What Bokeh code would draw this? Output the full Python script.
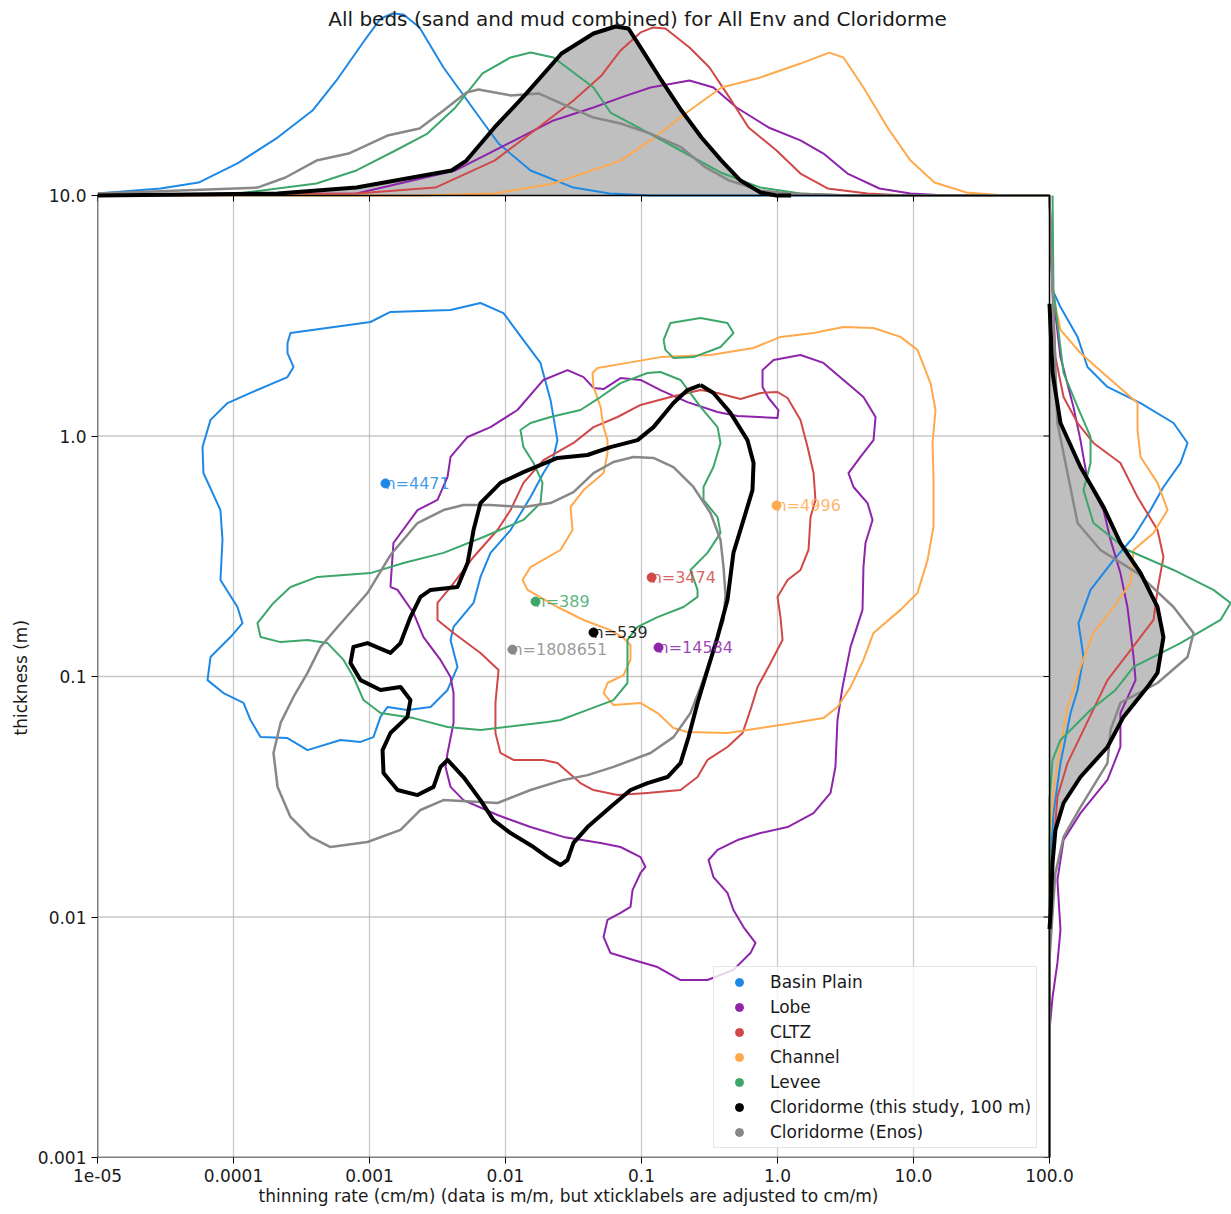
import numpy as np
from bokeh.plotting import figure
from bokeh.models import (Range1d, FixedTicker, LinearScale, Label, Legend, LegendItem, Title,
                          ColumnDataSource, CustomJSTickFormatter)
from bokeh.core.properties import value
from bokeh.embed import file_html
from bokeh.resources import INLINE

FONT = "DejaVu Sans"
TXT = "#1a1a1a"

# ---------------- data ----------------
groups = ["Basin Plain", "Lobe", "CLTZ", "Channel", "Levee",
          "Cloridorme (this study, 100 m)", "Cloridorme (Enos)"]
colors = ["#1e88e5", "#8e24aa", "#d04848", "#ffa94d", "#3da66b", "#000000", "#888888"]
counts = [4471, 14584, 3474, 4996, 389, 539, 1808651]
median_rate = [0.00131, 0.1334, 0.1187, 0.984, 0.01663, 0.0444, 0.01124]   # cm/m
median_thick = [0.635, 0.132, 0.258, 0.514, 0.205, 0.1524, 0.1294]          # m

x_ticks = [1e-5, 1e-4, 1e-3, 1e-2, 1e-1, 1.0, 10.0, 100.0]
x_tick_labels = ["1e-05", "0.0001", "0.001", "0.01", "0.1", "1.0", "10.0", "100.0"]
y_ticks = [1e-3, 1e-2, 1e-1, 1.0, 10.0]
y_tick_labels = ["0.001", "0.01", "0.1", "1.0", "10.0"]

# contours: (log10 thinning rate [cm/m], log10 thickness [m])
basin_plain_contour = [
    (-3.603, 0.387), (-3.581, 0.428), (-2.993, 0.474), (-2.846, 0.516), (-2.404, 0.524), (-2.184, 0.553),
    (-2.015, 0.511), (-1.868, 0.399), (-1.743, 0.304), (-1.669, 0.150), (-1.618, -0.017), (-1.647, -0.087),
    (-1.721, -0.154), (-1.816, -0.254), (-1.963, -0.391), (-2.110, -0.486), (-2.184, -0.586), (-2.235, -0.694),
    (-2.382, -0.794), (-2.404, -0.848), (-2.353, -0.960), (-2.426, -1.056), (-2.551, -1.127), (-2.721, -1.139),
    (-2.868, -1.127), (-2.919, -1.168), (-2.971, -1.252), (-3.066, -1.272), (-3.213, -1.264), (-3.456, -1.306),
    (-3.603, -1.256), (-3.801, -1.252), (-3.875, -1.181), (-3.926, -1.110), (-4.074, -1.069), (-4.191, -1.015),
    (-4.169, -0.919), (-4.022, -0.836), (-3.934, -0.778), (-3.971, -0.711), (-4.096, -0.599), (-4.081, -0.432),
    (-4.096, -0.308), (-4.221, -0.154), (-4.228, -0.046), (-4.169, 0.067), (-4.044, 0.137), (-3.875, 0.179),
    (-3.603, 0.245), (-3.559, 0.287), (-3.603, 0.345)]

lobe_contour = [
    (-2.846, -0.628), (-2.824, -0.445), (-2.647, -0.308), (-2.500, -0.266), (-2.426, -0.170), (-2.404, -0.087),
    (-2.279, -0.004), (-2.110, 0.037), (-1.912, 0.108), (-1.721, 0.233), (-1.544, 0.274), (-1.426, 0.245),
    (-1.353, 0.200), (-1.279, 0.195), (-1.154, 0.241), (-1.007, 0.233), (-0.860, 0.191), (-0.662, 0.141),
    (-0.441, 0.100), (-0.294, 0.083), (0.000, 0.075), (0.007, 0.108), (-0.066, 0.158), (-0.110, 0.204),
    (-0.110, 0.274), (-0.029, 0.316), (0.169, 0.337), (0.338, 0.304), (0.485, 0.233), (0.632, 0.162),
    (0.721, 0.079), (0.706, -0.017), (0.610, -0.087), (0.522, -0.154), (0.559, -0.212), (0.662, -0.279),
    (0.699, -0.349), (0.647, -0.445), (0.632, -0.545), (0.625, -0.723), (0.537, -0.877), (0.478, -1.044),
    (0.441, -1.181), (0.426, -1.376), (0.390, -1.484), (0.265, -1.568), (0.074, -1.626), (-0.125, -1.651),
    (-0.294, -1.680), (-0.441, -1.721), (-0.507, -1.763), (-0.471, -1.834), (-0.368, -1.900), (-0.324, -1.971),
    (-0.250, -2.042), (-0.162, -2.108), (-0.199, -2.150), (-0.324, -2.220), (-0.515, -2.262), (-0.713, -2.262),
    (-0.882, -2.208), (-1.059, -2.179), (-1.228, -2.150), (-1.279, -2.083), (-1.250, -2.012), (-1.154, -1.983),
    (-1.081, -1.958), (-1.066, -1.888), (-1.007, -1.817), (-0.971, -1.792), (-1.007, -1.751), (-1.154, -1.709),
    (-1.301, -1.692), (-1.574, -1.667), (-1.816, -1.626), (-2.059, -1.576), (-2.309, -1.514), (-2.404, -1.459),
    (-2.441, -1.376), (-2.426, -1.318), (-2.382, -1.193), (-2.382, -1.069), (-2.404, -1.002), (-2.478, -0.931),
    (-2.603, -0.836), (-2.676, -0.736), (-2.794, -0.640)]

cltz_contour = [
    (-2.404, -0.628), (-2.235, -0.503), (-2.059, -0.391), (-1.963, -0.308), (-1.868, -0.195), (-1.721, -0.100),
    (-1.500, -0.029), (-1.353, 0.037), (-1.176, 0.079), (-1.007, 0.129), (-0.787, 0.162), (-0.566, 0.191),
    (-0.441, 0.179), (-0.272, 0.154), (-0.125, 0.179), (0.000, 0.183), (0.074, 0.158), (0.169, 0.067),
    (0.221, -0.046), (0.265, -0.154), (0.279, -0.266), (0.243, -0.337), (0.228, -0.474), (0.169, -0.557),
    (0.074, -0.599), (0.000, -0.669), (0.022, -0.753), (0.037, -0.848), (-0.051, -0.944), (-0.147, -1.044),
    (-0.199, -1.139), (-0.257, -1.235), (-0.368, -1.293), (-0.515, -1.347), (-0.588, -1.418), (-0.713, -1.472),
    (-0.956, -1.484), (-1.176, -1.493), (-1.353, -1.472), (-1.449, -1.443), (-1.618, -1.360), (-1.721, -1.347),
    (-1.941, -1.347), (-2.037, -1.318), (-2.074, -1.235), (-2.074, -1.110), (-2.051, -0.973), (-2.184, -0.902),
    (-2.382, -0.819), (-2.500, -0.765), (-2.500, -0.694)]

channel_contour = [
    (-1.250, -0.017), (-1.279, 0.037), (-1.301, 0.121), (-1.353, 0.204), (-1.360, 0.262), (-1.324, 0.283),
    (-1.103, 0.304), (-0.860, 0.328), (-0.493, 0.337), (-0.176, 0.366), (0.022, 0.412), (0.265, 0.428),
    (0.485, 0.453), (0.706, 0.449), (0.904, 0.412), (1.029, 0.358), (1.125, 0.220), (1.162, 0.108),
    (1.140, -0.029), (1.147, -0.170), (1.147, -0.378), (1.103, -0.516), (1.029, -0.653), (0.904, -0.723),
    (0.706, -0.819), (0.632, -0.931), (0.537, -1.044), (0.441, -1.127), (0.338, -1.173), (0.118, -1.193),
    (-0.125, -1.214), (-0.368, -1.235), (-0.662, -1.231), (-0.765, -1.214), (-0.882, -1.152), (-1.007, -1.110),
    (-1.206, -1.119), (-1.279, -1.069), (-1.250, -1.027), (-1.132, -0.994), (-1.081, -0.931), (-1.081, -0.869),
    (-1.132, -0.840), (-1.228, -0.807), (-1.426, -0.765), (-1.618, -0.711), (-1.838, -0.640), (-1.875, -0.599),
    (-1.816, -0.545), (-1.596, -0.474), (-1.507, -0.391), (-1.522, -0.295), (-1.426, -0.225), (-1.279, -0.154),
    (-1.250, -0.071)]

levee_contour = [
    (-3.581, -0.628), (-3.382, -0.586), (-2.993, -0.570), (-2.750, -0.528), (-2.456, -0.486), (-2.162, -0.420),
    (-1.868, -0.349), (-1.743, -0.279), (-1.728, -0.195), (-1.794, -0.112), (-1.868, -0.046), (-1.890, 0.025),
    (-1.816, 0.054), (-1.669, 0.079), (-1.449, 0.108), (-1.301, 0.162), (-1.154, 0.220), (-0.956, 0.262),
    (-0.860, 0.266), (-0.713, 0.233), (-0.566, 0.121), (-0.441, 0.037), (-0.419, -0.029), (-0.471, -0.129),
    (-0.544, -0.212), (-0.544, -0.266), (-0.441, -0.337), (-0.419, -0.403), (-0.515, -0.486), (-0.640, -0.557),
    (-0.588, -0.640), (-0.588, -0.669), (-0.691, -0.711), (-0.882, -0.753), (-1.029, -0.794), (-1.103, -0.848),
    (-1.103, -0.931), (-1.103, -1.027), (-1.206, -1.098), (-1.397, -1.139), (-1.596, -1.181), (-1.691, -1.189),
    (-2.184, -1.222), (-2.426, -1.210), (-2.676, -1.173), (-2.919, -1.152), (-3.044, -1.098), (-3.118, -1.002),
    (-3.191, -0.931), (-3.309, -0.861), (-3.456, -0.848), (-3.654, -0.857), (-3.801, -0.836), (-3.824, -0.778),
    (-3.706, -0.694)]

levee_contour_island = [
    (-0.838, 0.399), (-0.787, 0.470), (-0.566, 0.491), (-0.368, 0.470), (-0.324, 0.428), (-0.419, 0.370),
    (-0.618, 0.328), (-0.765, 0.324), (-0.824, 0.358)]

cloridorme_contour = [
    (-0.566, 0.212), (-0.471, 0.179), (-0.346, 0.096), (-0.221, -0.017), (-0.176, -0.112), (-0.184, -0.225),
    (-0.250, -0.349), (-0.324, -0.486), (-0.368, -0.682), (-0.441, -0.836), (-0.515, -0.973), (-0.588, -1.110),
    (-0.654, -1.252), (-0.713, -1.360), (-0.809, -1.418), (-0.956, -1.443), (-1.081, -1.472), (-1.228, -1.543),
    (-1.397, -1.626), (-1.500, -1.692), (-1.544, -1.763), (-1.596, -1.784), (-1.691, -1.751), (-1.794, -1.709),
    (-1.963, -1.651), (-2.088, -1.597), (-2.184, -1.514), (-2.309, -1.418), (-2.426, -1.347), (-2.478, -1.376),
    (-2.529, -1.459), (-2.647, -1.493), (-2.794, -1.472), (-2.897, -1.401), (-2.904, -1.306), (-2.846, -1.235),
    (-2.721, -1.168), (-2.699, -1.098), (-2.772, -1.044), (-2.919, -1.056), (-3.066, -1.015), (-3.140, -0.944),
    (-3.118, -0.877), (-3.015, -0.861), (-2.846, -0.902), (-2.772, -0.861), (-2.699, -0.753), (-2.625, -0.669),
    (-2.551, -0.640), (-2.353, -0.628), (-2.279, -0.528), (-2.235, -0.391), (-2.184, -0.279), (-2.037, -0.195),
    (-1.868, -0.150), (-1.618, -0.091), (-1.397, -0.079), (-1.228, -0.046), (-1.029, -0.017), (-0.912, 0.037),
    (-0.765, 0.137), (-0.662, 0.191)]

enos_contour = [
    (-2.846, -0.495), (-2.647, -0.362), (-2.456, -0.308), (-2.309, -0.287), (-2.110, -0.287), (-1.868, -0.295),
    (-1.669, -0.279), (-1.500, -0.233), (-1.353, -0.154), (-1.206, -0.108), (-1.059, -0.087), (-0.912, -0.091),
    (-0.765, -0.129), (-0.618, -0.212), (-0.493, -0.320), (-0.419, -0.432), (-0.397, -0.545), (-0.382, -0.661),
    (-0.397, -0.765), (-0.471, -0.890), (-0.566, -1.044), (-0.640, -1.152), (-0.765, -1.252), (-0.934, -1.318),
    (-1.206, -1.376), (-1.397, -1.410), (-1.574, -1.430), (-1.816, -1.472), (-2.059, -1.526), (-2.456, -1.514),
    (-2.625, -1.555), (-2.772, -1.638), (-3.015, -1.688), (-3.287, -1.709), (-3.434, -1.667), (-3.581, -1.584),
    (-3.676, -1.459), (-3.706, -1.318), (-3.654, -1.193), (-3.559, -1.085), (-3.456, -0.985), (-3.360, -0.877),
    (-3.235, -0.794), (-3.015, -0.653)]

# marginal density of thinning rate: (log10 rate [cm/m], density)
basin_plain_rate_kde = [
    (-5.0, 0.011), (-4.537, 0.039), (-4.257, 0.072), (-3.971, 0.178), (-3.676, 0.322), (-3.419, 0.472),
    (-3.243, 0.639), (-3.037, 0.861), (-2.919, 0.983), (-2.831, 1.011), (-2.750, 1.006), (-2.632, 0.933),
    (-2.456, 0.711), (-2.228, 0.472), (-2.051, 0.289), (-1.816, 0.139), (-1.500, 0.044), (-1.235, 0.011),
    (-0.934, 0.0), (2.0, 0.0)]
lobe_rate_kde = [
    (-5.0, 0.0), (-3.096, 0.011), (-2.368, 0.139), (-1.934, 0.306), (-1.647, 0.417), (-1.353, 0.489),
    (-1.154, 0.544), (-0.934, 0.600), (-0.647, 0.639), (-0.471, 0.600), (-0.301, 0.489), (-0.066, 0.378),
    (0.169, 0.306), (0.338, 0.233), (0.515, 0.122), (0.750, 0.039), (0.978, 0.011), (1.243, 0.0), (2.0, 0.0)]
cltz_rate_kde = [
    (-5.0, 0.0), (-3.096, 0.011), (-2.515, 0.044), (-2.081, 0.194), (-1.787, 0.361), (-1.500, 0.528),
    (-1.294, 0.667), (-1.154, 0.806), (-1.007, 0.906), (-0.919, 0.933), (-0.824, 0.928), (-0.647, 0.822),
    (-0.500, 0.711), (-0.353, 0.544), (-0.213, 0.378), (-0.007, 0.250), (0.169, 0.122), (0.368, 0.039),
    (0.662, 0.011), (0.949, 0.0), (2.0, 0.0)]
channel_rate_kde = [
    (-5.0, 0.0), (-2.662, 0.0), (-2.081, 0.011), (-1.647, 0.067), (-1.154, 0.194), (-0.934, 0.306),
    (-0.647, 0.472), (-0.412, 0.600), (-0.125, 0.656), (0.169, 0.733), (0.287, 0.767), (0.382, 0.794),
    (0.485, 0.767), (0.632, 0.600), (0.809, 0.378), (0.978, 0.194), (1.154, 0.072), (1.390, 0.017),
    (1.676, 0.0), (2.0, 0.0)]
levee_rate_kde = [
    (-5.0, 0.0), (-3.971, 0.011), (-3.390, 0.067), (-3.096, 0.139), (-2.809, 0.250), (-2.574, 0.344),
    (-2.368, 0.489), (-2.169, 0.678), (-1.963, 0.767), (-1.816, 0.794), (-1.647, 0.767), (-1.353, 0.600),
    (-1.228, 0.461), (-1.007, 0.372), (-0.713, 0.250), (-0.419, 0.128), (-0.125, 0.044), (0.169, 0.011),
    (0.537, 0.0), (2.0, 0.0)]
cloridorme_rate_kde = [
    (-5.0, 0.0), (-3.676, 0.011), (-3.096, 0.044), (-2.809, 0.083), (-2.397, 0.139), (-2.287, 0.194),
    (-2.081, 0.378), (-1.846, 0.567), (-1.588, 0.789), (-1.353, 0.900), (-1.191, 0.939), (-1.096, 0.928),
    (-0.993, 0.806), (-0.853, 0.639), (-0.706, 0.472), (-0.559, 0.322), (-0.412, 0.194), (-0.272, 0.083),
    (-0.125, 0.017), (-0.007, 0.0), (0.1, 0.0)]
enos_rate_kde = [
    (-5.0, 0.011), (-3.824, 0.044), (-3.618, 0.100), (-3.390, 0.194), (-3.154, 0.233), (-2.868, 0.333),
    (-2.632, 0.372), (-2.456, 0.472), (-2.287, 0.572), (-2.199, 0.589), (-1.963, 0.556), (-1.757, 0.567),
    (-1.588, 0.511), (-1.353, 0.433), (-1.154, 0.400), (-0.934, 0.344), (-0.706, 0.267), (-0.529, 0.156),
    (-0.353, 0.083), (-0.125, 0.028), (0.081, 0.011), (0.537, 0.0), (2.0, 0.0)]

# marginal density of thickness: (log10 thickness [m], density)
basin_plain_thick_kde = [
    (1.0, 0.0), (0.607, 0.017), (0.536, 0.061), (0.412, 0.156), (0.287, 0.211), (0.204, 0.322),
    (0.137, 0.506), (0.054, 0.689), (-0.029, 0.767), (-0.112, 0.728), (-0.212, 0.633), (-0.308, 0.561),
    (-0.420, 0.467), (-0.516, 0.356), (-0.640, 0.228), (-0.778, 0.161), (-0.919, 0.189), (-1.056, 0.156),
    (-1.152, 0.117), (-1.360, 0.061), (-1.568, 0.022), (-1.709, 0.011), (-1.929, 0.0), (-3.0, 0.0)]
lobe_thick_kde = [
    (1.0, 0.0), (0.607, 0.017), (0.328, 0.061), (0.121, 0.133), (-0.017, 0.172), (-0.183, 0.211),
    (-0.308, 0.300), (-0.432, 0.339), (-0.570, 0.394), (-0.711, 0.433), (-0.919, 0.467), (-1.015, 0.478),
    (-1.152, 0.394), (-1.293, 0.394), (-1.430, 0.322), (-1.568, 0.172), (-1.680, 0.078), (-1.846, 0.044),
    (-2.054, 0.061), (-2.191, 0.044), (-2.333, 0.017), (-2.470, 0.0), (-3.0, 0.0)]
cltz_thick_kde = [
    (1.0, 0.0), (0.607, 0.017), (0.328, 0.033), (0.162, 0.078), (0.054, 0.156), (-0.029, 0.244),
    (-0.112, 0.394), (-0.254, 0.489), (-0.391, 0.600), (-0.503, 0.633), (-0.640, 0.600), (-0.765, 0.578),
    (-0.890, 0.450), (-1.015, 0.322), (-1.222, 0.189), (-1.360, 0.100), (-1.501, 0.044), (-1.709, 0.022),
    (-1.917, 0.006), (-2.137, 0.0), (-3.0, 0.0)]
channel_thick_kde = [
    (1.0, 0.0), (0.578, 0.022), (0.441, 0.061), (0.345, 0.172), (0.245, 0.322), (0.137, 0.489),
    (0.025, 0.489), (-0.087, 0.506), (-0.195, 0.600), (-0.308, 0.656), (-0.403, 0.578), (-0.474, 0.467),
    (-0.611, 0.450), (-0.711, 0.356), (-0.819, 0.244), (-0.960, 0.172), (-1.056, 0.133), (-1.127, 0.100),
    (-1.293, 0.061), (-1.472, 0.022), (-1.680, 0.0), (-3.0, 0.0)]
levee_thick_kde = [
    (1.0, 0.017), (0.607, 0.022), (0.262, 0.078), (0.121, 0.156), (-0.004, 0.228), (-0.112, 0.228),
    (-0.225, 0.189), (-0.362, 0.244), (-0.474, 0.433), (-0.557, 0.689), (-0.640, 0.911), (-0.694, 1.006),
    (-0.765, 0.950), (-0.861, 0.728), (-0.960, 0.467), (-1.056, 0.367), (-1.139, 0.228), (-1.264, 0.061),
    (-1.347, 0.017), (-1.514, 0.0), (-3.0, 0.0)]
cloridorme_thick_kde = [
    (0.550, 0.0), (0.262, 0.017), (0.054, 0.061), (-0.129, 0.172), (-0.295, 0.300),
    (-0.445, 0.394), (-0.570, 0.506), (-0.711, 0.600), (-0.836, 0.633), (-0.985, 0.600), (-1.044, 0.544),
    (-1.168, 0.411), (-1.293, 0.322), (-1.418, 0.172), (-1.526, 0.078), (-1.638, 0.033), (-1.775, 0.017),
    (-1.983, 0.006), (-2.050, 0.0)]
enos_thick_kde = [
    (1.0, 0.0), (0.607, 0.017), (0.054, 0.044), (-0.154, 0.100), (-0.362, 0.156), (-0.474, 0.283),
    (-0.570, 0.489), (-0.711, 0.689), (-0.819, 0.800), (-0.919, 0.767), (-1.027, 0.600), (-1.110, 0.394),
    (-1.222, 0.339), (-1.360, 0.322), (-1.543, 0.172), (-1.667, 0.078), (-1.817, 0.033), (-1.983, 0.017),
    (-2.179, 0.0), (-3.0, 0.0)]

contours = [basin_plain_contour, lobe_contour, cltz_contour, channel_contour, levee_contour,
            cloridorme_contour, enos_contour]
rate_kdes = [basin_plain_rate_kde, lobe_rate_kde, cltz_rate_kde, channel_rate_kde, levee_rate_kde,
             cloridorme_rate_kde, enos_rate_kde]
thick_kdes = [basin_plain_thick_kde, lobe_thick_kde, cltz_thick_kde, channel_thick_kde, levee_thick_kde,
              cloridorme_thick_kde, enos_thick_kde]
line_widths = [2, 2, 2, 2, 2, 4, 2.5]

# ---------------- geometry (pixels) ----------------
PX_DEC_X = 136.0      # pixels per decade of thinning rate
PX_DEC_Y = 240.5      # pixels per decade of thickness
PX_DENS = 180.0       # pixels per unit of marginal density
LEFT, FRAME_W = 97, 1134
FRAME_H, BOTTOM = 1157, 56
TOP_MARGIN_H = 195    # height of the upper marginal strip
MAIN_W = 952          # width of the joint panel
TICK = 6


def loglog(lst, close=False):
    a = np.array(lst, dtype=float)
    if close:
        a = np.vstack([a, a[:1]])
    return 10 ** a[:, 0], 10 ** a[:, 1]


def fmt(tks, lbls):
    return CustomJSTickFormatter(args=dict(tick_values=tks, tick_texts=lbls), code="""
        const i = tick_values.findIndex(t => Math.abs(Math.log10(t) - Math.log10(tick)) < 1e-6);
        return i >= 0 ? tick_texts[i] : "";
    """)


xlo, xhi = x_ticks[0], x_ticks[-1]
ylo, yhi = y_ticks[0], y_ticks[-1]
x_rng = Range1d(xlo, xlo * 10 ** (FRAME_W / PX_DEC_X))
y_rng = Range1d(ylo, ylo * 10 ** (FRAME_H / PX_DEC_Y))

p = figure(frame_width=FRAME_W, frame_height=FRAME_H, x_axis_type="log", y_axis_type="log",
           x_range=x_rng, y_range=y_rng, output_backend="svg", toolbar_location=None,
           min_border_left=LEFT, min_border_right=0, min_border_top=0, min_border_bottom=BOTTOM)
p.extra_y_ranges = {"top": Range1d(-(FRAME_H - TOP_MARGIN_H) / PX_DENS, TOP_MARGIN_H / PX_DENS)}
p.extra_y_scales = {"top": LinearScale()}
p.extra_x_ranges = {"right": Range1d(-MAIN_W / PX_DENS, (FRAME_W - MAIN_W) / PX_DENS)}
p.extra_x_scales = {"right": LinearScale()}
p.outline_line_color = None
p.xgrid.visible = False
p.ygrid.visible = False

for ax, tk, lb in ((p.xaxis[0], x_ticks, x_tick_labels), (p.yaxis[0], y_ticks, y_tick_labels)):
    ax.ticker = FixedTicker(ticks=tk, minor_ticks=[])
    ax.formatter = fmt(tk, lb)
    ax.major_tick_out = TICK
    ax.major_tick_in = 0
    ax.minor_tick_line_color = None
    ax.major_tick_line_color = "black"
    ax.axis_line_color = None
    ax.major_label_text_font = FONT
    ax.major_label_text_font_size = "17px"
    ax.major_label_text_color = TXT
p.xaxis.major_label_standoff = 5
p.yaxis.major_label_standoff = 5

# axis titles (placed relative to the joint panel)
p.add_layout(Title(text="thinning rate (cm/m) (data is m/m, but xticklabels are adjusted to cm/m)",
                   align="left", offset=161, vertical_align="middle", standoff=0,
                   text_font=FONT, text_font_size="17px", text_font_style="normal",
                   text_color=TXT), "below")
p.add_layout(Title(text="thickness (m)", align="left", offset=422, vertical_align="bottom", standoff=8,
                   text_font=FONT, text_font_size="17px", text_font_style="normal",
                   text_color=TXT), "left")

# grid lines of the joint panel
gx = x_ticks[1:-1]
gy = y_ticks[1:-1]
p.segment(x0=gx, y0=[ylo] * len(gx), x1=gx, y1=[yhi] * len(gx),
          line_color="#b0b0b0", line_alpha=0.7, line_width=1.3)
p.segment(x0=[xlo] * len(gy), y0=gy, x1=[xhi] * len(gy), y1=gy,
          line_color="#b0b0b0", line_alpha=0.7, line_width=1.3)

# upper marginal (density of thinning rate)
a = np.array(cloridorme_rate_kde)
p.varea(x=10 ** a[:, 0], y1=np.zeros(len(a)), y2=a[:, 1], fill_color="#bfbfbf", y_range_name="top")
for i in [0, 1, 2, 3, 4, 6, 5]:
    a = np.array(rate_kdes[i])
    p.line(10 ** a[:, 0], a[:, 1], line_color=colors[i], line_width=line_widths[i],
           line_join="round", y_range_name="top")

# right marginal (density of thickness)
a = np.array(cloridorme_thick_kde)
p.harea(y=10 ** a[:, 0], x1=np.zeros(len(a)), x2=a[:, 1], fill_color="#bfbfbf", x_range_name="right")
for i in [0, 1, 2, 3, 4, 6, 5]:
    a = np.array(thick_kdes[i])
    p.line(a[:, 1], 10 ** a[:, 0], line_color=colors[i], line_width=line_widths[i],
           line_join="round", x_range_name="right")

# contours
for i in [0, 1, 2, 3, 4, 6, 5]:
    xs, ys = loglog(contours[i], close=True)
    p.line(xs, ys, line_color=colors[i], line_width=line_widths[i], line_join="round")
    if i == 4:
        xs2, ys2 = loglog(levee_contour_island, close=True)
        p.line(xs2, ys2, line_color=colors[i], line_width=line_widths[i], line_join="round")

# spines of the joint panel + inward ticks on top / right spines
p.segment(x0=[xlo, xlo, xlo, xhi], y0=[ylo, ylo, yhi, ylo], x1=[xhi, xlo, xhi, xhi],
          y1=[ylo, yhi, yhi, yhi], line_color="black", line_width=1.5)
p.segment(x0=x_ticks, y0=[yhi] * len(x_ticks), x1=x_ticks,
          y1=[yhi * 10 ** (-TICK / PX_DEC_Y)] * len(x_ticks), line_color="black", line_width=1)
p.segment(x0=[xhi] * len(y_ticks), y0=y_ticks, x1=[xhi * 10 ** (-TICK / PX_DEC_X)] * len(y_ticks),
          y1=y_ticks, line_color="black", line_width=1)

# medians and counts
legend_items = []
for i, g in enumerate(groups):
    r = p.scatter([median_rate[i]], [median_thick[i]], size=9, fill_color=colors[i], line_color=colors[i])
    legend_items.append(LegendItem(label=g, renderers=[r]))

src = ColumnDataSource(dict(x=median_rate, y=median_thick, t=[f"n={c}" for c in counts], c=colors))
p.text(x="x", y="y", text="t", text_color="c", source=src, text_font=value(FONT),
       text_font_size="16px", text_align="left", text_baseline="alphabetic", text_alpha=0.85)

leg = Legend(items=legend_items, location=(616, 9), padding=5, spacing=5, margin=0,
             glyph_width=40, glyph_height=20, label_height=20, label_standoff=11,
             label_text_font=FONT, label_text_font_size="17px", label_text_color=TXT,
             border_line_color="#cccccc", border_line_width=1, background_fill_alpha=0.8)
p.add_layout(leg, "center")

# chart title (inside the upper marginal strip)
p.add_layout(Label(x=540, y=FRAME_H - 18, x_units="screen", y_units="screen",
                   text="All beds (sand and mud combined) for All Env and Cloridorme",
                   text_align="center", text_baseline="middle", text_font=FONT,
                   text_font_size="20px", text_color=TXT))

open("out.html", "w").write(file_html(p, INLINE))
